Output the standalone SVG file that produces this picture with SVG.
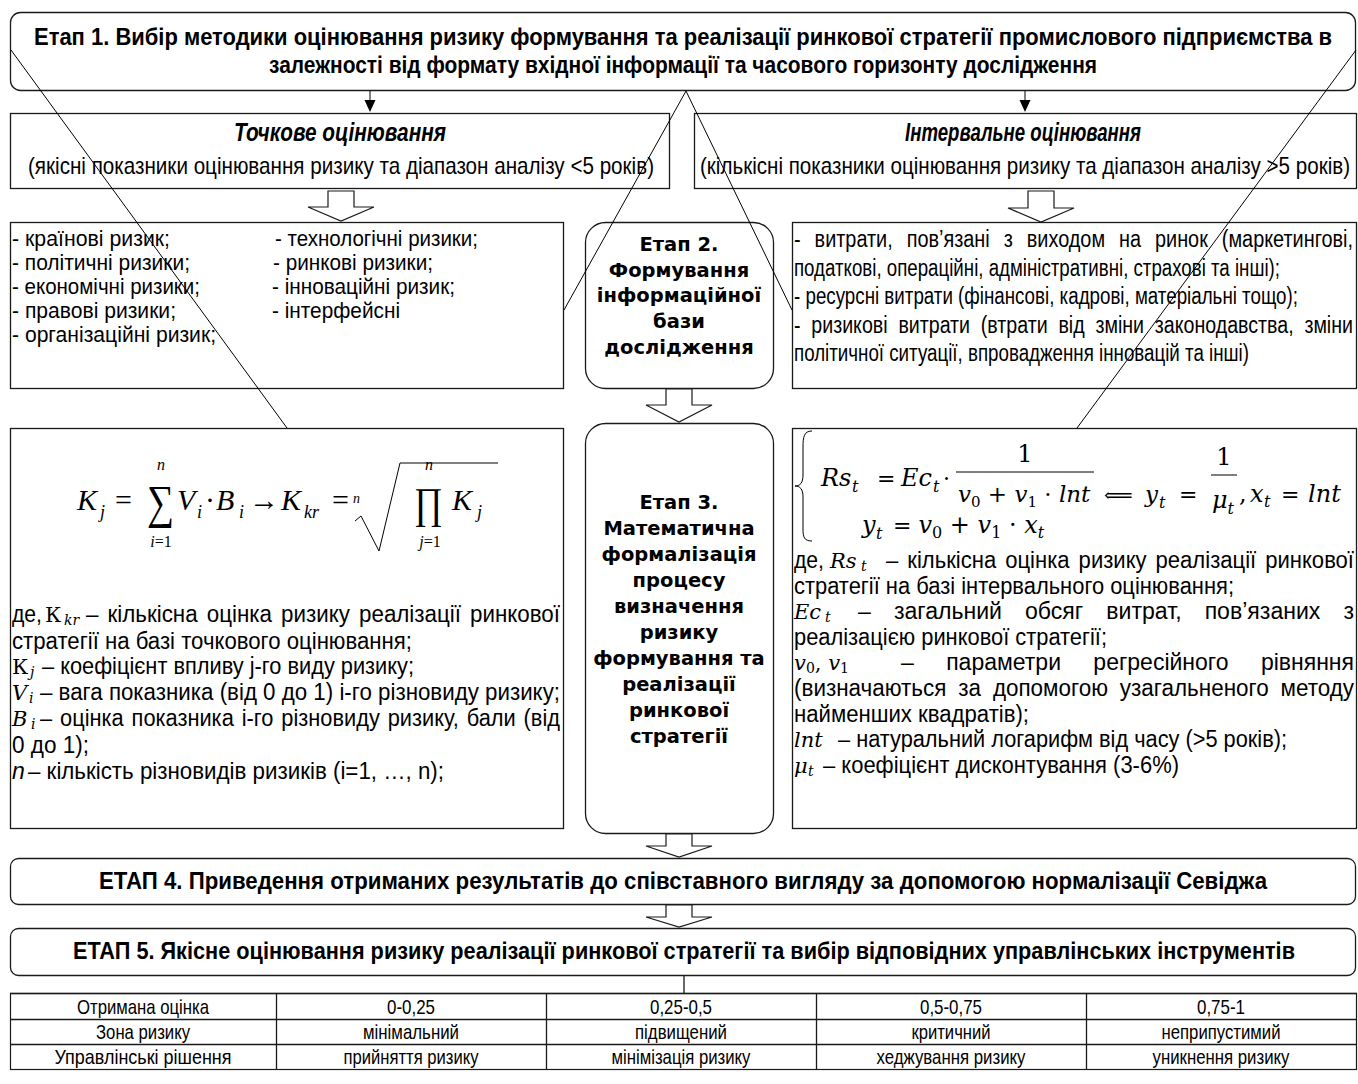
<svg xmlns="http://www.w3.org/2000/svg" width="1358" height="1084" viewBox="0 0 1358 1084">
<style>
.bx{fill:#fff;stroke:#1a1a1a;stroke-width:1.3}
.ba{fill:#fff;stroke:#1a1a1a;stroke-width:1.2;stroke-linejoin:miter}
.cn{fill:none;stroke:#000;stroke-width:1}
.ln{fill:none;stroke:#1a1a1a;stroke-width:1.3}
text{fill:#000}
.n{font-family:"Liberation Sans Narrow","Arial Narrow","Liberation Sans",Arial,sans-serif}
.b{font-weight:bold}
.it{font-style:italic}
.w{font-family:"DejaVu Sans",Verdana,sans-serif;font-size:19.5px;font-weight:bold;text-anchor:middle}
.tm{font-family:"Liberation Serif","Times New Roman",serif;font-style:italic}
.tu{font-family:"Liberation Serif","Times New Roman",serif;font-style:normal}
.cm{font-family:"DejaVu Serif",Cambria,serif;font-style:italic}
.cu{font-family:"DejaVu Serif",Cambria,serif;font-style:normal}
.c{text-anchor:middle}
.f23{font-size:23px}
.f24{font-size:24px}
.f25{font-size:25px}
.fl{font-size:21.5px}
.fr{font-size:23.5px}
.ff{font-size:23px}
.f21{font-size:21px}
</style>

<g id="etap1">
<rect class="bx" x="10.5" y="12.5" width="1345" height="78" rx="10"/>
<text class="n b f23 c" x="683" y="45" textLength="1298" lengthAdjust="spacingAndGlyphs">Етап 1. Вибір методики оцінювання ризику формування та реалізації ринкової стратегії промислового підприємства в</text>
<text class="n b f23 c" x="683" y="73" textLength="828" lengthAdjust="spacingAndGlyphs">залежності від формату вхідної інформації та часового горизонту дослідження</text>
</g>

<g id="tochkove">
<rect class="bx" x="10.5" y="113.5" width="659" height="75"/>
<text class="n b it f25 c" x="340" y="141" textLength="212" lengthAdjust="spacingAndGlyphs">Точкове оцінювання</text>
<text class="n f24 c" x="341" y="174" textLength="626" lengthAdjust="spacingAndGlyphs">(якісні показники оцінювання ризику та діапазон аналізу &lt;5 років)</text>
</g>

<g id="intervalne">
<rect class="bx" x="694.5" y="113.5" width="662" height="75"/>
<text class="n b it f25 c" x="1023" y="141" textLength="236" lengthAdjust="spacingAndGlyphs">Інтервальне оцінювання</text>
<text class="n f24 c" x="1025" y="174" textLength="650" lengthAdjust="spacingAndGlyphs">(кількісні показники оцінювання ризику та діапазон аналізу &gt;5 років)</text>
</g>

<g id="ryzyky-list">
<rect class="bx" x="10.5" y="222.5" width="553" height="166"/>
<text class="n fl" x="12" y="246" textLength="158" lengthAdjust="spacingAndGlyphs">- країнові ризик;</text>
<text class="n fl" x="12" y="270" textLength="178" lengthAdjust="spacingAndGlyphs">- політичні ризики;</text>
<text class="n fl" x="12" y="294" textLength="188" lengthAdjust="spacingAndGlyphs">- економічні ризики;</text>
<text class="n fl" x="12" y="318" textLength="164" lengthAdjust="spacingAndGlyphs">- правові ризики;</text>
<text class="n fl" x="12" y="342" textLength="204" lengthAdjust="spacingAndGlyphs">- організаційні ризик;</text>
<text class="n fl" x="275" y="246" textLength="203" lengthAdjust="spacingAndGlyphs">- технологічні ризики;</text>
<text class="n fl" x="273" y="270" textLength="160" lengthAdjust="spacingAndGlyphs">- ринкові ризики;</text>
<text class="n fl" x="272" y="294" textLength="183" lengthAdjust="spacingAndGlyphs">- інноваційні ризик;</text>
<text class="n fl" x="272" y="318" textLength="128" lengthAdjust="spacingAndGlyphs">- інтерфейсні</text>
</g>

<g id="etap2">
<rect class="bx" x="585.5" y="222.5" width="188" height="166" rx="20"/>
<text class="w" x="679" y="251">Етап 2.</text>
<text class="w" x="679" y="277">Формування</text>
<text class="w" x="679" y="302">інформаційної</text>
<text class="w" x="679" y="328">бази</text>
<text class="w" x="679" y="354">дослідження</text>
</g>

<g id="vytraty-list">
<rect class="bx" x="792.5" y="222.5" width="564" height="166"/>
<text class="n fr" x="794" y="247" word-spacing="10" textLength="559" lengthAdjust="spacingAndGlyphs">- витрати, пов’язані з виходом на ринок (маркетингові,</text>
<text class="n fr" x="794" y="275.5" textLength="486" lengthAdjust="spacingAndGlyphs">податкові, операційні, адміністративні, страхові та інші);</text>
<text class="n fr" x="794" y="304" textLength="504" lengthAdjust="spacingAndGlyphs">- ресурсні витрати (фінансові, кадрові, матеріальні тощо);</text>
<text class="n fr" x="794" y="332.5" word-spacing="6.4" textLength="559" lengthAdjust="spacingAndGlyphs">- ризикові витрати (втрати від зміни законодавства, зміни</text>
<text class="n fr" x="794" y="361" textLength="455" lengthAdjust="spacingAndGlyphs">політичної ситуації, впровадження інновацій та інші)</text>
</g>

<g id="formula-tochkove">
<rect class="bx" x="10.5" y="428.5" width="553" height="400"/>
<text class="tm" y="510" font-size="30"><tspan x="77">K</tspan><tspan x="100" dy="8" font-size="18">j</tspan><tspan class="tu" x="115" dy="-8">=</tspan></text>
<text class="tu" font-size="38" transform="translate(147,518) scale(1,1.25)">∑</text>
<text class="tm c" x="161" y="470" font-size="16">n</text>
<text class="tm c" x="161" y="547" font-size="16">i<tspan class="tu">=1</tspan></text>
<text class="tm" y="510" font-size="30"><tspan x="177">V</tspan><tspan x="197" dy="8" font-size="18">i</tspan><tspan class="tu" x="205" dy="-8">·</tspan><tspan x="216">B</tspan><tspan x="239" dy="8" font-size="18">i</tspan><tspan class="tu" x="249" dy="-8">→</tspan><tspan x="281">K</tspan><tspan x="304" dy="8" font-size="18">kr</tspan><tspan class="tu" x="332" dy="-8">=</tspan></text>
<text class="tm" x="353" y="503" font-size="14">n</text>
<polyline class="cn" points="355,521 361,516 379,551 400,463 498,463" stroke-width="1.4"/>
<text class="tu" font-size="35" transform="translate(414,518) scale(1,1.25)">∏</text>
<text class="tm c" x="429" y="470" font-size="16">n</text>
<text class="tm c" x="430" y="547" font-size="16">j<tspan class="tu">=1</tspan></text>
<text class="tm" y="510" font-size="30"><tspan x="452">K</tspan><tspan x="477" dy="8" font-size="18">j</tspan></text>

<text class="n ff" y="622"><tspan x="12" textLength="30" lengthAdjust="spacingAndGlyphs">де,</tspan><tspan class="cu" x="45" font-size="21">К</tspan><tspan class="cm" x="64" dy="3" font-size="14">kr</tspan></text>
<text class="n ff" x="86" y="622" word-spacing="3" textLength="474" lengthAdjust="spacingAndGlyphs">– кількісна оцінка ризику реалізації ринкової</text>
<text class="n ff" x="12" y="649" textLength="400" lengthAdjust="spacingAndGlyphs">стратегії на базі точкового оцінювання;</text>
<text class="n ff" y="674"><tspan class="cu" x="12" font-size="21">К</tspan><tspan class="cm" x="30" dy="3" font-size="14">j</tspan></text>
<text class="n ff" x="42" y="674" textLength="372" lengthAdjust="spacingAndGlyphs">– коефіцієнт впливу j-го виду ризику;</text>
<text class="n ff" y="700"><tspan class="cm" x="12" font-size="21">V</tspan><tspan class="cm" x="29" dy="3" font-size="14">i</tspan></text>
<text class="n ff" x="40" y="700" textLength="520" lengthAdjust="spacingAndGlyphs">– вага показника (від 0 до 1) і-го різновиду ризику;</text>
<text class="n ff" y="726"><tspan class="cm" x="12" font-size="21">B</tspan><tspan class="cm" x="31" dy="3" font-size="14">i</tspan></text>
<text class="n ff" x="40" y="726" word-spacing="2" textLength="520" lengthAdjust="spacingAndGlyphs">– оцінка показника і-го різновиду ризику, бали (від</text>
<text class="n ff" x="12" y="753" textLength="77" lengthAdjust="spacingAndGlyphs">0 до 1);</text>
<text class="n ff it" x="12" y="779">n</text>
<text class="n ff" x="28" y="779" textLength="416" lengthAdjust="spacingAndGlyphs">– кількість різновидів ризиків (i=1, …, n);</text>
</g>

<g id="etap3">
<rect class="bx" x="585.5" y="423.5" width="188" height="410" rx="20"/>
<text class="w" x="679" y="509">Етап 3.</text>
<text class="w" x="679" y="535">Математична</text>
<text class="w" x="679" y="561">формалізація</text>
<text class="w" x="679" y="587">процесу</text>
<text class="w" x="679" y="613">визначення</text>
<text class="w" x="679" y="639">ризику</text>
<text class="w" x="679" y="665">формування та</text>
<text class="w" x="679" y="691">реалізації</text>
<text class="w" x="679" y="717">ринкової</text>
<text class="w" x="679" y="743">стратегії</text>
</g>

<g id="formula-intervalne">
<rect class="bx" x="792.5" y="428.5" width="564" height="400"/>
<path class="cn" stroke-width="1.5" d="M812,431 C804,431 803,437 803,447 L803,475 C803,483 800,486 795,486 C800,486 803,489 803,497 L803,529 C803,537 804,541 812,541"/>
<text class="cm" y="486" font-size="24"><tspan x="821">Rs</tspan><tspan x="852" dy="6" font-size="16">t</tspan><tspan class="cu" x="877" dy="-6" font-size="22">=</tspan><tspan x="901">Ec</tspan><tspan x="933" dy="6" font-size="16">t</tspan><tspan class="cu" x="943" dy="-6" font-size="22">·</tspan></text>
<text class="cu c" x="1025" y="462" font-size="24">1</text>
<line class="cn" x1="956" y1="472" x2="1094" y2="472" stroke-width="1.3"/>
<text class="cm" x="958" y="502" font-size="23">v<tspan class="cu" font-size="15" dy="5">0</tspan><tspan class="cu" dy="-5"> + </tspan>v<tspan class="cu" font-size="15" dy="5">1</tspan><tspan class="cu" dy="-5"> · </tspan>lnt<tspan class="cu" x="1104" font-family="DejaVu Sans,sans-serif" font-size="20">⟸</tspan><tspan x="1145">y</tspan><tspan x="1159" dy="6" font-size="16">t</tspan><tspan class="cu" x="1179" dy="-6" font-size="22">=</tspan></text>
<text class="cu c" x="1224" y="465" font-size="24">1</text>
<line class="cn" x1="1211" y1="475" x2="1237" y2="475" stroke-width="1.3"/>
<text class="cm" x="1212" y="508" font-size="24">μ<tspan font-size="16" dy="6">t</tspan></text>
<text class="cm" y="502" font-size="24"><tspan class="cu" x="1239">,</tspan><tspan x="1250">x</tspan><tspan x="1264" dy="5" font-size="16">t</tspan><tspan class="cu" x="1281" dy="-5" font-size="22">=</tspan><tspan x="1308">lnt</tspan></text>
<text class="cm" y="533" font-size="24"><tspan x="862">y</tspan><tspan x="876" dy="6" font-size="16">t</tspan><tspan class="cu" x="893" dy="-6" font-size="22">= </tspan>v<tspan class="cu" font-size="16" dy="5">0</tspan><tspan class="cu" dy="-5"> + </tspan>v<tspan class="cu" font-size="16" dy="5">1</tspan><tspan class="cu" dy="-5"> · </tspan>x<tspan font-size="16" dy="5">t</tspan></text>

<text class="n ff" y="568"><tspan x="794" textLength="30" lengthAdjust="spacingAndGlyphs">де,</tspan><tspan class="cm" x="830" font-size="21">Rs</tspan><tspan class="cm" x="861" dy="3" font-size="14">t</tspan></text>
<text class="n ff" x="886" y="568" word-spacing="3" textLength="468" lengthAdjust="spacingAndGlyphs">– кількісна оцінка ризику реалізації ринкової</text>
<text class="n ff" x="794" y="594" textLength="440" lengthAdjust="spacingAndGlyphs">стратегії на базі інтервального оцінювання;</text>
<text class="n ff" y="619"><tspan class="cm" x="794" font-size="21">Ec</tspan><tspan class="cm" x="825" dy="3" font-size="14">t</tspan></text>
<text class="n ff" x="858" y="619" word-spacing="16.6" textLength="496" lengthAdjust="spacingAndGlyphs">– загальний обсяг витрат, пов’язаних з</text>
<text class="n ff" x="794" y="645" textLength="313" lengthAdjust="spacingAndGlyphs">реалізацією ринкової стратегії;</text>
<text class="n ff" y="670"><tspan class="cm" x="794" font-size="21">v</tspan><tspan class="cu" dy="3" font-size="14">0</tspan><tspan class="cu" dy="-3" font-size="21">, </tspan><tspan class="cm" font-size="21">v</tspan><tspan class="cu" dy="3" font-size="14">1</tspan></text>
<text class="n ff" x="901" y="670" word-spacing="26" textLength="453" lengthAdjust="spacingAndGlyphs">– параметри регресійного рівняння</text>
<text class="n ff" x="794" y="696" word-spacing="5.8" textLength="560" lengthAdjust="spacingAndGlyphs">(визначаються за допомогою узагальненого методу</text>
<text class="n ff" x="794" y="722" textLength="235" lengthAdjust="spacingAndGlyphs">найменших квадратів);</text>
<text class="cm" x="794" y="747" font-size="21">lnt</text>
<text class="n ff" x="838" y="747" textLength="449" lengthAdjust="spacingAndGlyphs">– натуральний логарифм від часу (&gt;5 років);</text>
<text class="cm" y="773" font-size="21"><tspan x="794">μ</tspan><tspan x="808" dy="3" font-size="14">t</tspan></text>
<text class="n ff" x="823" y="773" textLength="356" lengthAdjust="spacingAndGlyphs">– коефіцієнт дисконтування (3-6%)</text>
</g>

<g id="etap4">
<rect class="bx" x="10.5" y="858.5" width="1345" height="46" rx="8"/>
<text class="n b f23 c" x="683" y="889" textLength="1168" lengthAdjust="spacingAndGlyphs">ЕТАП 4. Приведення отриманих результатів до співставного вигляду за допомогою нормалізації Севіджа</text>
</g>

<g id="etap5">
<rect class="bx" x="10.5" y="928.5" width="1345" height="47" rx="8"/>
<text class="n b f23 c" x="684" y="959" textLength="1222" lengthAdjust="spacingAndGlyphs">ЕТАП 5. Якісне оцінювання ризику реалізації ринкової стратегії та вибір відповідних управлінських інструментів</text>
</g>

<g id="table">
<rect x="10.5" y="993.5" width="1346" height="76" fill="#fff" stroke="#1a1a1a" stroke-width="1.2"/>
<line class="ln" x1="10" y1="993.5" x2="1357" y2="993.5" stroke-width="2.2"/>
<line class="ln" x1="10" y1="1019.5" x2="1357" y2="1019.5" stroke-width="1"/>
<line class="ln" x1="10" y1="1044.5" x2="1357" y2="1044.5" stroke-width="1"/>
<line class="ln" x1="276.5" y1="993" x2="276.5" y2="1070"/>
<line class="ln" x1="546.5" y1="993" x2="546.5" y2="1070"/>
<line class="ln" x1="816.5" y1="993" x2="816.5" y2="1070"/>
<line class="ln" x1="1086.5" y1="993" x2="1086.5" y2="1070"/>
<text class="n f21 c" x="143" y="1014" textLength="132" lengthAdjust="spacingAndGlyphs">Отримана оцінка</text>
<text class="n f21 c" x="411" y="1014" textLength="48" lengthAdjust="spacingAndGlyphs">0-0,25</text>
<text class="n f21 c" x="681" y="1014" textLength="62" lengthAdjust="spacingAndGlyphs">0,25-0,5</text>
<text class="n f21 c" x="951" y="1014" textLength="62" lengthAdjust="spacingAndGlyphs">0,5-0,75</text>
<text class="n f21 c" x="1221" y="1014" textLength="48" lengthAdjust="spacingAndGlyphs">0,75-1</text>
<text class="n f21 c" x="143" y="1039" textLength="94" lengthAdjust="spacingAndGlyphs">Зона ризику</text>
<text class="n f21 c" x="411" y="1039" textLength="96" lengthAdjust="spacingAndGlyphs">мінімальний</text>
<text class="n f21 c" x="681" y="1039" textLength="92" lengthAdjust="spacingAndGlyphs">підвищений</text>
<text class="n f21 c" x="951" y="1039" textLength="79" lengthAdjust="spacingAndGlyphs">критичний</text>
<text class="n f21 c" x="1221" y="1039" textLength="119" lengthAdjust="spacingAndGlyphs">неприпустимий</text>
<text class="n f21 c" x="143" y="1064" textLength="177" lengthAdjust="spacingAndGlyphs">Управлінські рішення</text>
<text class="n f21 c" x="411" y="1064" textLength="135" lengthAdjust="spacingAndGlyphs">прийняття ризику</text>
<text class="n f21 c" x="681" y="1064" textLength="139" lengthAdjust="spacingAndGlyphs">мінімізація ризику</text>
<text class="n f21 c" x="951" y="1064" textLength="149" lengthAdjust="spacingAndGlyphs">хеджування ризику</text>
<text class="n f21 c" x="1221" y="1064" textLength="137" lengthAdjust="spacingAndGlyphs">уникнення ризику</text>
</g>

<g id="connectors">
<line class="cn" x1="370" y1="91" x2="370" y2="101" stroke-width="1.5"/>
<polygon points="364.5,100 375.5,100 370,112" fill="#000"/>
<line class="cn" x1="1025" y1="91" x2="1025" y2="101" stroke-width="1.5"/>
<polygon points="1019.5,100 1030.5,100 1025,112" fill="#000"/>
<polygon class="ba" points="328,191 354,191 354,207 374,207 341,221 308,207 328,207"/>
<polygon class="ba" points="1028,191 1054,191 1054,208 1074,208 1041,222 1008,208 1028,208"/>
<polygon class="ba" points="666,389 692,389 692,405 712,405 679,422 646,405 666,405"/>
<polygon class="ba" points="666,834 692,834 692,846 712,846 679,857 646,846 666,846"/>
<polygon class="ba" points="666,905 692,905 692,917 712,917 679,927 646,917 666,917"/>
<line class="ln" x1="684" y1="976" x2="684" y2="993"/>
<line class="cn" x1="11" y1="50" x2="287" y2="428"/>
<line class="cn" x1="686" y1="91" x2="564" y2="310"/>
<line class="cn" x1="686" y1="91" x2="792" y2="310"/>
<line class="cn" x1="1356" y1="50" x2="1077" y2="428"/>
</g>
</svg>
